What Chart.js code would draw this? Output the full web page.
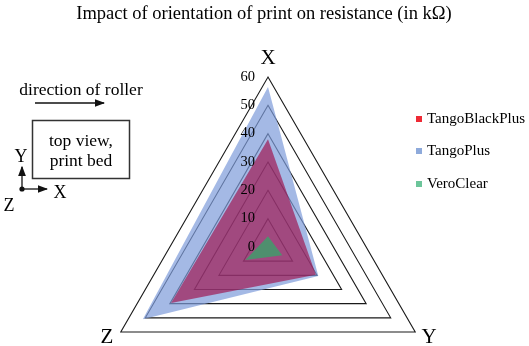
<!DOCTYPE html>
<html>
<head>
<meta charset="utf-8">
<script src="https://cdn.jsdelivr.net/npm/chart.js@4"></script>
<style>
  html, body { margin: 0; padding: 0; background: #fff; overflow: hidden; }
  #wrap { position: relative; width: 529px; height: 346px; overflow: hidden; font-family: "Liberation Serif", serif; color: #000; }
  #wrap canvas { position: absolute; left: 0; top: 0; }
  #notes { position: absolute; left: 0; top: 0; }
  .title { position: absolute; left: 0; width: 528px; top: 0; text-align: center; font-size: 18.5px; line-height: 26px; }
  .legend { position: absolute; left: 416px; top: 0; font-size: 15px; }
  .legend div { position: absolute; white-space: nowrap; line-height: 16px; }
  .legend span { display: inline-block; width: 6px; height: 6px; margin-right: 5px; vertical-align: 1px; }
</style>
</head>
<body>
<div id="wrap">
  <!-- canvas runs below the window so the triangle's circle fits; only 346px are shown -->
  <canvas id="radarChart" width="529" height="420"></canvas>
  <div class="title">Impact of orientation of print on resistance (in kΩ)</div>
  <svg id="notes" width="170" height="230" font-family="Liberation Serif, serif">
    <defs>
      <marker id="head" markerWidth="8" markerHeight="6" refX="7" refY="3" orient="auto">
        <path d="M0,0 L8,3 L0,6 z" fill="#111"/>
      </marker>
    </defs>
    <text x="81" y="95" font-size="17.5" text-anchor="middle">direction of roller</text>
    <line x1="35" y1="103" x2="104" y2="103" stroke="#111" stroke-width="1.3" marker-end="url(#head)"/>
    <rect x="32.5" y="120.5" width="97" height="58" fill="none" stroke="#333" stroke-width="1.5"/>
    <text x="81" y="146" font-size="17.5" text-anchor="middle">top view,</text>
    <text x="81" y="166" font-size="17.5" text-anchor="middle">print bed</text>
    <line x1="22" y1="189" x2="22" y2="167" stroke="#111" stroke-width="1.3" marker-end="url(#head)"/>
    <line x1="22" y1="189" x2="47" y2="189" stroke="#111" stroke-width="1.3" marker-end="url(#head)"/>
    <circle cx="22" cy="189" r="2.6" fill="#111"/>
    <text x="21" y="162" font-size="18" text-anchor="middle">Y</text>
    <text x="60" y="198" font-size="18" text-anchor="middle">X</text>
    <text x="9" y="211" font-size="18" text-anchor="middle">Z</text>
  </svg>
  <div class="legend" id="legend"></div>
</div>
<script>
const AXES = ["X", "Y", "Z"];
const TICKS = [0, 10, 20, 30, 40, 50, 60];

const tangoBlackPlus = [38, 19.5, 39.5];
const tangoPlus = [56.5, 20.5, 51];
const veroClear = [3.8, 5.8, 9.2];

const SERIES = [
  { label: "TangoBlackPlus", data: tangoBlackPlus, fill: "rgba(160,0,60,0.6)", key: "#ee2a35", order: 2 },
  { label: "TangoPlus", data: tangoPlus, fill: "rgba(125,155,218,0.7)", key: "#8eaadb", order: 3 },
  { label: "VeroClear", data: veroClear, fill: "rgba(44,174,103,0.7)", key: "#6cc59a", order: 1 },
];

// legend on the right
const legendEl = document.getElementById("legend");
const legendY = [110, 142, 175];
SERIES.forEach((s, i) => {
  const d = document.createElement("div");
  d.style.top = legendY[i] + "px";
  d.innerHTML = `<span style="background:${s.key}"></span>${s.label}`;
  legendEl.appendChild(d);
});

// tick numbers and X/Y/Z labels drawn on top of the fills
const overlay = {
  id: "overlay",
  afterDatasetsDraw(chart) {
    const r = chart.scales.r;
    const ctx = chart.ctx;
    ctx.save();
    ctx.fillStyle = "#000";
    ctx.font = '14.5px "Liberation Serif"';
    ctx.textAlign = "right";
    ctx.textBaseline = "middle";
    r.ticks.forEach(t => {
      const p = r.getPointPositionForValue(0, t.value);
      ctx.fillText(String(t.value), p.x - 13, p.y);
    });
    ctx.font = '21px "Liberation Serif"';
    ctx.textAlign = "center";
    chart.data.labels.forEach((lab, i) => {
      const p = r.getPointPosition(i, r.drawingArea + 16);
      ctx.fillText(lab, p.x, p.y - 3);
    });
    ctx.restore();
  },
};

new Chart(document.getElementById("radarChart"), {
  type: "radar",
  data: {
    labels: AXES,
    datasets: SERIES.map(s => ({
      label: s.label,
      data: s.data,
      backgroundColor: s.fill,
      borderWidth: 0,
      pointRadius: 0,
      fill: true,
      order: s.order,
    })),
  },
  options: {
    responsive: false,
    animation: false,
    layout: { padding: { left: 93, right: 86, top: 77, bottom: 3 } },
    plugins: {
      legend: { display: false },
      tooltip: { enabled: false },
    },
    scales: {
      r: {
        min: TICKS[0],
        max: TICKS[TICKS.length - 1],
        ticks: { stepSize: 10, display: false },
        pointLabels: { display: false },
        angleLines: { display: false },
        grid: { color: "#1a1a1a", lineWidth: 1.1 },
      },
    },
  },
  plugins: [overlay],
});
</script>
</body>
</html>
